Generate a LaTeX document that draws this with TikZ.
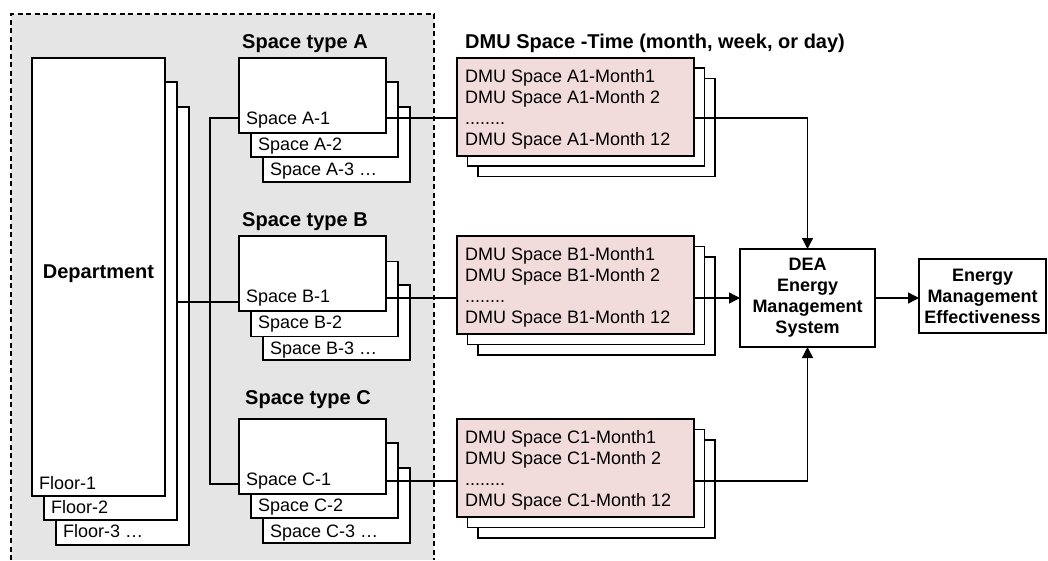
\documentclass[tikz,border=0pt]{standalone}
\usepackage{fontspec}
\setmainfont{Liberation Sans}
\usetikzlibrary{arrows.meta,calc}
\definecolor{dmupink}{RGB}{242,220,219}
\definecolor{regiongray}{RGB}{229,229,229}
\begin{document}
\begin{tikzpicture}[x=1pt,y=-1pt,
  pbox/.style={draw=black, line width=1.6pt, fill=white, inner sep=0pt, outer sep=0pt, anchor=north west},
  floorbox/.style={pbox, minimum width=133pt, minimum height=438pt},
  spacebox/.style={pbox, minimum width=147pt, minimum height=75pt},
  dmuback/.style={pbox, minimum width=237pt, minimum height=98pt},
  dmufront/.style={dmuback, fill=dmupink},
  lbl/.style={font=\fontsize{18}{21}\selectfont, inner sep=0pt, anchor=base west},
  ttl/.style={font=\bfseries\fontsize{20}{24}\selectfont, inner sep=0pt, anchor=base west},
  dmutext/.style={font=\fontsize{18}{21}\selectfont, inner sep=0pt, anchor=north west, align=left},
  conn/.style={line width=1.4pt},
  arr/.style={conn, -{Triangle[length=11pt,width=11pt]}}]
\useasboundingbox (0,0) rectangle (1048,560);
% grey region
\fill[regiongray] (11,14) rectangle (434,560);
\draw[line width=1.2pt, dash pattern=on 5pt off 3.5pt] (11,560) -- (11,14) -- (434,14) -- (434,560);
% floors
\node[floorbox] (F3) at (56,107) {};
\node[floorbox] (F2) at (44,82) {};
\node[floorbox] (F1) at (32,58) {};
\node[lbl] (F1t) at (39,489) {Floor-1};
\node[lbl] (F2t) at (51,513) {Floor-2};
\node[lbl] (F3t) at (63,537) {Floor-3 …};
\node[ttl, anchor=base] (dept) at (98.5,278) {Department};
% space type A
\node[ttl] (tA) at (242,48) {Space type A};
\node[spacebox] (A3) at (263,107) {};
\node[spacebox] (A2) at (251,82) {};
\node[spacebox] (A1) at (239,58) {};
\node[lbl] (A1t) at (246,124) {Space A-1};
\node[lbl] (A2t) at (258,150) {Space A-2};
\node[lbl] (A3t) at (270,175) {Space A-3 …};
% space type B
\node[ttl] (tB) at (242,226) {Space type B};
\node[spacebox] (B3) at (263,285) {};
\node[spacebox] (B2) at (251,261.5) {};
\node[spacebox] (B1) at (239,236) {};
\node[lbl] (B1t) at (246,302) {Space B-1};
\node[lbl] (B2t) at (258,328) {Space B-2};
\node[lbl] (B3t) at (270,354) {Space B-3 …};
% space type C
\node[ttl] (tC) at (245,404) {Space type C};
\node[spacebox] (C3) at (263,468) {};
\node[spacebox] (C2) at (251,443) {};
\node[spacebox] (C1) at (239,419) {};
\node[lbl] (C1t) at (246,485) {Space C-1};
\node[lbl] (C2t) at (258,511) {Space C-2};
\node[lbl] (C3t) at (270,537) {Space C-3 …};
% DMU
\node[ttl] (tD) at (465,48) {DMU Space -Time (month, week, or day)};
\node[dmuback] (DA2) at (478,78.5) {};
\node[dmuback] (DA1) at (467.5,68) {};
\node[dmufront] (DA) at (457,58) {};
\node[dmutext] (DAt) at (465,69.1) {DMU Space A1-Month1\\DMU Space A1-Month 2\\........\\DMU Space A1-Month 12};
\node[dmuback] (DB2) at (478,257) {};
\node[dmuback] (DB1) at (467.5,246.5) {};
\node[dmufront] (DB) at (457,236) {};
\node[dmutext] (DBt) at (465,247.1) {DMU Space B1-Month1\\DMU Space B1-Month 2\\........\\DMU Space B1-Month 12};
\node[dmuback] (DC2) at (478,440) {};
\node[dmuback] (DC1) at (467.5,429.5) {};
\node[dmufront] (DC) at (457,419) {};
\node[dmutext] (DCt) at (465,430.1) {DMU Space C1-Month1\\DMU Space C1-Month 2\\........\\DMU Space C1-Month 12};
% DEA and result
\node[pbox, minimum width=135pt, minimum height=98pt, align=center, font=\bfseries\fontsize{18}{21}\selectfont] (DEA) at (740,249) {DEA\\Energy\\Management\\System};
\node[pbox, minimum width=127pt, minimum height=74pt, align=center, font=\bfseries\fontsize{18}{21}\selectfont] (EME) at (919,259) {Energy\\Management\\Effectiveness};
% connectors
\coordinate (yA) at (0,118);
\coordinate (yBl) at (0,302);
\coordinate (yBr) at (0,298);
\coordinate (yCl) at (0,484);
\coordinate (yCr) at (0,481);
\coordinate (xv) at (210,0);
\draw[conn] (F2.east |- yBl) -- (B1.west |- yBl);
\draw[conn] (A1.west |- yA) -- (xv |- yA) -- (xv |- yCl) -- (C1.west |- yCl);
\draw[conn] (A1.east |- yA) -- (DA.west |- yA);
\draw[conn] (B1.east |- yBr) -- (DB.west |- yBr);
\draw[conn] (C1.east |- yCr) -- (DC.west |- yCr);
\draw[arr] (DA.east |- yA) -- (DEA.north |- yA) -- (DEA.north);
\draw[arr] (DB.east |- DEA.west) -- (DEA.west);
\draw[arr] (DC.east |- yCr) -- (DEA.south |- yCr) -- (DEA.south);
\draw[arr] (DEA.east) -- (EME.west |- DEA.east);
\end{tikzpicture}
\end{document}
